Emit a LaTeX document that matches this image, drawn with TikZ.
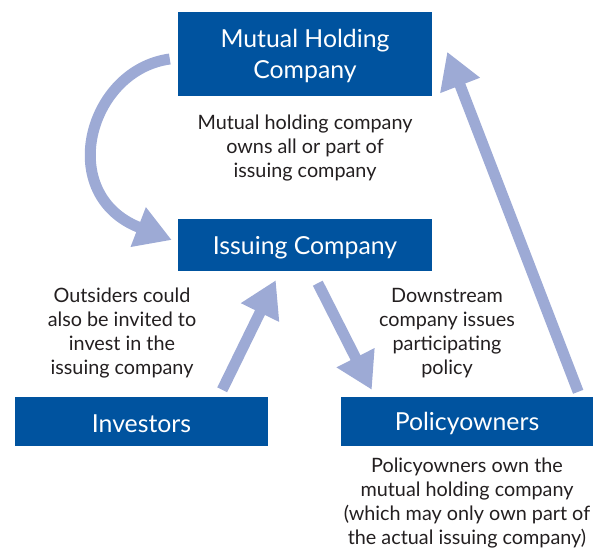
\documentclass[tikz,border=0pt]{standalone}
\usepackage{fontspec}
\setmainfont{Lato}
\usetikzlibrary{arrows.meta}
\definecolor{boxblue}{HTML}{00539F}
\definecolor{arrowblue}{HTML}{9DAAD5}
\definecolor{txt}{HTML}{231F20}
\newcommand{\lowerby}[2]{\raisebox{-#1}[\height][\depth]{#2}}
\begin{document}
\begin{tikzpicture}[x=1pt,y=-1pt,
  box/.style={fill=boxblue,text=white,inner sep=0pt,align=center,
    font=\fontsize{24.8}{31}\selectfont},
  note/.style={text=txt,align=center,inner sep=0pt,
    font=\fontsize{19.8}{24}\selectfont},
  flow/.style={draw=arrowblue,line width=11pt,
    -{Triangle[length=36pt,width=40pt]}}]
\useasboundingbox (0,0) rectangle (600,550);
\node[box,minimum width=254pt,minimum height=84pt] (mhc) at (305,54) {\lowerby{1.5pt}{Mutual Holding}\\\lowerby{1.5pt}{Company}};
\node[box,minimum width=254pt,minimum height=52pt] (iss) at (305,245) {\lowerby{3pt}{Issuing Company}};
\node[box,minimum width=253pt,minimum height=49pt] (inv) at (141.5,421.5) {\lowerby{2pt}{Investors}};
\node[box,minimum width=252pt,minimum height=49pt] (pol) at (467,421.5) {\lowerby{2pt}{Policyowners}};
\node[note] (n1) at (305,148) {Mutual holding company\\owns all or part of\\issuing company};
\node[note] (n2) at (122,333) {Outsiders could\\also be invited to\\invest in the\\issuing company};
\node[note] (n3) at (447,333) {Downstream\\company issues\\participating\\policy};
\node[note] (n4) at (467,503) {Policyowners own the\\mutual holding company\\(which may only own part of\\the actual issuing company)};
\draw[flow] ([xshift=-8pt,yshift=-5pt]mhc.west) .. controls (88,70) and (55,195) .. ([xshift=-6pt,yshift=5pt]iss.west);
\draw[flow] ([xshift=-46pt,yshift=7pt]inv.north east) -- ([xshift=98pt,yshift=-9pt]iss.south west);
\draw[flow] ([xshift=140pt,yshift=-12pt]iss.south west) -- ([xshift=31pt,yshift=7pt]pol.north west);
\draw[flow] ([xshift=-15pt,yshift=5pt]pol.north east) -- ([xshift=15pt,yshift=-40pt]mhc.north east);
\end{tikzpicture}
\end{document}
